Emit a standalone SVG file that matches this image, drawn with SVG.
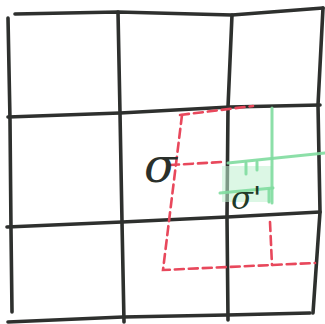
<svg xmlns="http://www.w3.org/2000/svg" width="325" height="324" viewBox="0 0 325 324">
<style>
.grid{fill:none;stroke:#2e302e;stroke-width:3.6;stroke-linecap:round;stroke-linejoin:round}
.red{fill:none;stroke:#e8485c;stroke-width:2.6;stroke-dasharray:9 5;stroke-linecap:round}
.green{fill:none;stroke:#7fdc9e;stroke-width:3;stroke-linecap:round;opacity:0.9}
.sym{font-family:"DejaVu Serif","Liberation Serif",serif;font-style:italic}
</style>
<rect width="325" height="324" fill="#ffffff"/>
<g id="grid">
<polyline class="grid" points="15,14 118,12 232,15 323,8"/>
<polyline class="grid" points="8,117 120,113 230,107 320,105"/>
<polyline class="grid" points="7,227 122,222 227,217 320,212"/>
<polyline class="grid" points="8,322 123,317 227,315 310,313"/>
<polyline class="grid" points="8,18 10,120 11,230 12,312"/>
<polyline class="grid" points="118,12 120,113 122,222 124,322"/>
<polyline class="grid" points="232,15 228,107 227,217 228,320"/>
<polyline class="grid" points="323,8 318,105 320,212 313,313"/>
</g>
<g id="green-region">
<rect x="222" y="166" width="50" height="36" fill="#bff0cf" opacity="0.55"/>
<polyline class="green" points="272,108 272,203"/>
<polyline class="green" points="228,163 325,153"/>
<polyline class="green" points="220,193 273,188"/>
<line class="green" x1="246" y1="163" x2="246" y2="174"/>
<line class="green" x1="257" y1="162" x2="257" y2="170"/>
<line class="green" x1="269" y1="190" x2="269" y2="202"/>
</g>
<g id="red-region">
<polyline class="red" points="180,115 253,106"/>
<polyline class="red" points="182,115 163,270 315,263"/>
<polyline class="red" points="270,222 272,265"/>
<polyline class="red" points="170,165 222,162"/>
</g>
<g id="sigma">
<text class="sym" x="144" y="182" font-size="48" fill="#2a302b">σ</text>
</g>
<g id="sigma-prime">
<text class="sym" x="231" y="209" font-size="32" fill="#1f3a28">σ'</text>
</g>
</svg>
